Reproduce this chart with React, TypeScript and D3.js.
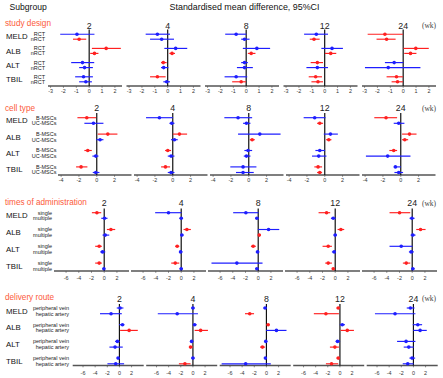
import React from 'react';
import * as d3 from 'd3';

// ---------- data ----------
const weeks = ['2', '4', '8', '12', '24'];
const outcomes = ['MELD', 'ALB', 'ALT', 'TBIL'];

// rows per week: MELD-a, MELD-b, ALB-a, ALB-b, ALT-a, ALT-b, TBIL-a, TBIL-b
const studyDesignGroups = ['RCT', 'nRCT'];
const studyDesignTicks = [-3, -2, -1, 0, 1, 2];
const studyDesignEst = [
  [-0.95, -0.78, 1.32, 0.41, -0.52, -0.36, -0.44, -0.26],
  [-0.8, -0.47, 0.62, 0.34, -0.34, -0.31, -0.8, -0.08],
  [-0.78, -0.13, 0.83, 0.39, -0.13, -0.13, -0.78, -0.39],
  [-0.65, -0.83, 0.57, 0.47, -0.57, -0.57, -0.7, -0.52],
  [-1.42, -1.29, 0.98, 0.57, -0.7, -1.16, -0.52, -0.44],
];
const studyDesignLow = [
  [-2.25, -1.26, 0.21, 0.08, -1.4, -0.78, -1.09, -0.78],
  [-1.71, -1.37, -0.26, 0.13, -0.52, -0.52, -1.37, -0.34],
  [-1.63, -0.39, -0.26, 0.13, -0.39, -0.72, -1.68, -1.09],
  [-1.6, -1.16, -0.26, 0.02, -1.09, -1.42, -1.24, -1.03],
  [-2.76, -2.07, 0.02, 0.08, -1.42, -2.97, -1.29, -0.9],
];
const studyDesignHigh = [
  [0.41, -0.23, 2.46, 0.72, 0.39, 0.29, 0.29, 0.21],
  [0.18, 0.49, 1.52, 0.57, -0.08, 0.05, -0.16, 0.18],
  [0.02, 0.26, 1.86, 0.72, 0.13, 0.52, 0.08, -0.02],
  [0.26, -0.39, 1.42, 0.9, -0.13, 0.26, -0.21, -0.13],
  [-0.02, -0.59, 1.99, 1.03, 0.02, 1.34, -0.02, -0.02],
];

const cellTypeGroups = ['B-MSCs', 'UC-MSCs'];
const cellTypeTicks = [-4, -2, 0, 2];
const cellTypeEst = [
  [-1.12, -0.37, 1.24, 0.37, -1.01, -0.11, -1.76, -0.11],
  [-1.5, -0.11, 0.75, 0.19, -0.56, -0.19, -0.82, -0.19],
  [-1.2, -0.26, 1.24, 0.38, -0.08, -0.26, -0.64, -0.64],
  [-1.13, -0.56, 0.64, 0.45, -0.56, -0.68, -0.75, -0.56],
  [-1.65, -0.23, 0.98, 0.45, -0.79, -1.47, -0.6, -0.23],
];
const cellTypeLow = [
  [-2.17, -1.39, 0.11, -0.05, -1.39, -0.49, -2.32, -0.45],
  [-3.0, -0.37, 0.02, -0.19, -0.86, -0.56, -1.31, -0.56],
  [-2.74, -0.64, -1.2, 0.11, -0.49, -0.56, -2.07, -1.43],
  [-2.37, -0.86, -0.11, 0.15, -1.05, -1.43, -1.17, -0.86],
  [-2.97, -0.79, 0.15, 0.15, -1.28, -3.91, -0.79, -0.71],
];
const cellTypeHigh = [
  [-0.07, 0.75, 2.32, 0.75, -0.56, 0.19, -1.05, 0.3],
  [0.02, 0.19, 1.61, 0.56, -0.19, 0.19, -0.3, 0.19],
  [0.38, 0.19, 3.57, 0.68, 0.38, 0.19, 0.86, 0.56],
  [0.08, -0.19, 1.47, 0.75, 0.03, 0.19, -0.3, -0.3],
  [-0.41, 0.41, 1.77, 0.83, -0.41, 1.09, 0.02, 0.26],
];

const timesGroups = ['single', 'multiple'];
const timesTicks = [-6, -4, -2, 0, 2];
const timesEst = [
  [-1.15, 0.05, 1.05, 0.16, -0.79, -0.26, -0.79, -0.05],
  [-2.0, 0.0, 0.89, 0.1, -0.63, -0.1, -0.94, 0.0],
  [-1.94, -0.21, 1.63, 0.16, -0.79, -0.1, -3.36, -0.21],
  [-1.36, -0.31, 0.89, 0.0, -1.1, -0.16, -1.1, -0.31],
  [-1.99, -0.05, 1.31, 0.1, -1.73, -0.16, -0.94, 0.1],
];
const timesLow = [
  [-1.94, -0.47, 0.42, -0.26, -1.42, -0.63, -1.42, -0.26],
  [-4.1, -0.26, 0.37, -0.16, -0.94, -0.31, -1.57, -0.26],
  [-3.94, -0.47, -0.05, 0.02, -1.15, -0.37, -7.35, -0.47],
  [-2.62, -0.68, 0.37, -0.26, -1.99, -0.52, -1.57, -0.52],
  [-3.57, -0.42, 0.63, -0.26, -3.57, -0.52, -1.47, -0.16],
];
const timesHigh = [
  [-0.47, 0.52, 1.73, 0.79, -0.37, 0.16, -0.37, 0.16],
  [0.05, 0.26, 1.52, 0.37, -0.31, 0.21, -0.31, 0.26],
  [0.05, 0.05, 3.31, 0.42, -0.37, 0.16, 0.68, 0.05],
  [-0.79, 0.1, 1.42, 0.26, -0.52, 0.1, -0.52, -0.03],
  [-0.31, 0.37, 2.1, 0.52, 0.05, 0.26, -0.31, 0.37],
];

const routeGroups = ['peripheral vein', 'hepatic artery'];
const routeTicks = [-6, -4, -2, 0, 2];
const routeEst = [
  [0.11, -1.38, 0.5, 1.6, -0.33, -0.72, -0.22, -0.61],
  [0.0, -2.59, 0.28, 1.27, -0.22, -0.39, 0.0, -1.32],
  [-0.22, -2.75, 0.28, 1.65, -0.11, -0.66, -0.17, -3.42],
  [-0.28, -2.31, 0.39, 1.21, -0.39, -0.83, -0.28, -1.38],
  [-0.5, -3.03, 0.72, 1.1, -1.21, -0.77, -0.22, -0.94],
];
const routeLow = [
  [-0.44, -3.2, -0.05, 0.11, -0.72, -1.65, -0.44, -1.98],
  [-0.28, -5.79, -0.03, 0.28, -0.5, -0.66, -0.28, -2.31],
  [-0.5, -3.53, 0.03, -0.05, -0.39, -1.05, -0.39, -7.38],
  [-0.55, -4.3, -0.03, 0.11, -0.72, -1.65, -0.55, -2.31],
  [-1.1, -6.34, -0.11, -0.03, -2.7, -1.6, -0.66, -1.76],
];
const routeHigh = [
  [0.66, 0.39, 0.83, 3.03, 0.03, 0.55, 0.03, 0.77],
  [0.28, 0.83, 0.61, 2.48, 0.06, -0.03, 0.28, -0.39],
  [0.06, -2.04, 0.55, 3.31, 0.17, -0.22, 0.06, 0.72],
  [-0.03, -0.17, 0.83, 2.31, 0.03, -0.17, -0.03, -0.28],
  [0.17, 0.33, 1.43, 2.2, 0.33, 0.06, 0.28, 0.03],
];

// ---------- layout / style ----------
const FONT = '"Liberation Sans", Arial, Helvetica, sans-serif';
const RED = '#ff2020';
const BLUE = '#1e1eff';
const SECTION = '#fc5a3a';

type Layout = {
  titleY: number; weekY: number; firstRow: number; groupStep: number; subStep: number;
  axisY: number; colX0: number; colStep: number; colW: number; domain: [number, number];
  subLabelX: number; tickOff: number; lineTop: number;
};

const panels = [
  {
    title: 'study design', groups: studyDesignGroups, ticks: studyDesignTicks,
    est: studyDesignEst, low: studyDesignLow, high: studyDesignHigh,
    layout: { titleY: 26, weekY: 28.5, firstRow: 34.2, groupStep: 14.2, subStep: 5.0, axisY: 86,
      colX0: 48, colStep: 78.5, colW: 74, domain: [-3.2, 2.55], subLabelX: 45, tickOff: 6.6, lineTop: 29.5 } as Layout,
  },
  {
    title: 'cell type', groups: cellTypeGroups, ticks: cellTypeTicks,
    est: cellTypeEst, low: cellTypeLow, high: cellTypeHigh,
    layout: { titleY: 110.5, weekY: 111, firstRow: 117.7, groupStep: 16.4, subStep: 5.6, axisY: 175,
      colX0: 58, colStep: 76, colW: 73.5, domain: [-4.35, 3.9], subLabelX: 56.5, tickOff: 7.3, lineTop: 113 } as Layout,
  },
  {
    title: 'times of administration', groups: timesGroups, ticks: timesTicks,
    est: timesEst, low: timesLow, high: timesHigh,
    layout: { titleY: 204.5, weekY: 206, firstRow: 212.7, groupStep: 16.8, subStep: 5.6, axisY: 271,
      colX0: 54, colStep: 77, colW: 75, domain: [-7.9, 3.9], subLabelX: 52, tickOff: 8.8, lineTop: 208.5 } as Layout,
  },
  {
    title: 'delivery route', groups: routeGroups, ticks: routeTicks,
    est: routeEst, low: routeLow, high: routeHigh,
    layout: { titleY: 300, weekY: 301.5, firstRow: 308, groupStep: 16.7, subStep: 5.7, axisY: 365.5,
      colX0: 72.7, colStep: 73.5, colW: 71, domain: [-7.7, 4.0], subLabelX: 69, tickOff: 9, lineTop: 304 } as Layout,
  },
];

function Panel({ p }: { p: (typeof panels)[number] }) {
  const L = p.layout;
  const rowIdx = d3.range(outcomes.length * 2);
  const rowY = (i: number) => L.firstRow + Math.floor(i / 2) * L.groupStep + (i % 2) * L.subStep;
  return (
    <g>
      <text x={5} y={L.titleY} fill={SECTION} fontSize={8.2} fontFamily={FONT}>{p.title}</text>
      {outcomes.map((o, g) => (
        <text key={o} x={6} y={(rowY(g * 2) + rowY(g * 2 + 1)) / 2 + 2.7} fontSize={7.8} fontFamily={FONT} fill="#111">{o}</text>
      ))}
      {rowIdx.map((i) => (
        <text key={'s' + i} x={L.subLabelX} y={rowY(i) + 1.9} fontSize={5.5} fontFamily={FONT} fill="#222" textAnchor="end">
          {p.groups[i % 2]}
        </text>
      ))}
      <text x={429} y={L.weekY - 0.5} fontSize={7.5} fontFamily='"Liberation Serif", "DejaVu Serif", serif' fill="#444" textAnchor="middle">(wk)</text>
      {weeks.map((w, c) => {
        const x0 = L.colX0 + c * L.colStep;
        const x = d3.scaleLinear().domain(L.domain).range([x0, x0 + L.colW]);
        return (
          <g key={w}>
            <text x={x(0)} y={L.weekY} fontSize={8.8} fontFamily={FONT} fill="#222" textAnchor="middle">{w}</text>
            <line x1={x0} x2={x0 + L.colW} y1={L.axisY} y2={L.axisY} stroke="#555" strokeWidth={1.3} />
            {p.ticks.map((t) => (
              <g key={t}>
                <line x1={x(t)} x2={x(t)} y1={L.axisY} y2={L.axisY + 1.8} stroke="#555" strokeWidth={0.7} />
                <text x={x(t)} y={L.axisY + L.tickOff} fontSize={5.4} fontFamily={FONT} fill="#333" textAnchor="middle">{t}</text>
              </g>
            ))}
            <line x1={x(0)} x2={x(0)} y1={L.lineTop} y2={L.axisY} stroke="#111" strokeWidth={1.2} />
            {rowIdx.map((i) => {
              const lo = p.low[c][i];
              const hi = p.high[c][i];
              const col = lo > 0 || hi < 0 ? RED : BLUE;
              const y = rowY(i);
              return (
                <g key={i}>
                  <line x1={x(lo)} x2={x(hi)} y1={y} y2={y} stroke={col} strokeWidth={1.15} />
                  <circle cx={x(p.est[c][i])} cy={y} r={1.8} fill={col} />
                </g>
              );
            })}
          </g>
        );
      })}
    </g>
  );
}

export default function App() {
  return (
    <svg width={443} height={378} style={{ position: 'absolute', left: 0, top: 0, background: '#fff' }}>
      <rect x={0} y={0} width={443} height={378} fill="#fff" />
      <text x={9.5} y={9.5} fontSize={8.6} fontFamily={FONT} fill="#111">Subgroup</text>
      <text x={244.5} y={10} fontSize={8.9} fontFamily={FONT} fill="#111" textAnchor="middle">
        Standardised mean difference, 95%CI
      </text>
      {panels.map((p) => (
        <Panel key={p.title} p={p} />
      ))}
    </svg>
  );
}
